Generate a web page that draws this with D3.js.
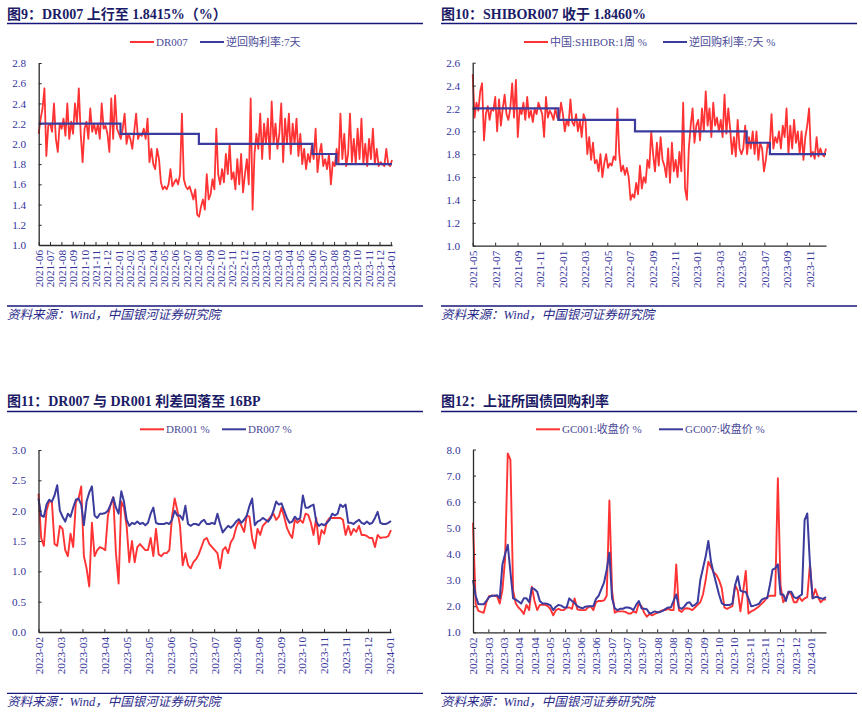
<!DOCTYPE html>
<html><head><meta charset="utf-8">
<script src="https://cdn.jsdelivr.net/npm/d3@7/dist/d3.min.js"></script>
<style>body{margin:0;background:#fff}svg{display:block}</style>
</head><body>
<svg id="c" width="862" height="722"></svg>
<script>
// ---------- DATA ----------
// Panel 1: DR007 (%), ~6 readings per month from 2021-06 to 2024-01
const p1Ticks = ["2021-06","2021-07","2021-08","2021-09","2021-10","2021-11","2021-12","2022-01","2022-02","2022-03","2022-04","2022-05","2022-06","2022-07","2022-08","2022-09","2022-10","2022-11","2022-12","2023-01","2023-02","2023-03","2023-04","2023-05","2023-06","2023-07","2023-08","2023-09","2023-10","2023-11","2023-12","2024-01"];
const p1DR007 = [
2.10,2.25,2.35,2.55,1.88,2.18, 2.20,2.12,2.40,2.05,1.92,2.20, 2.15,2.25,2.08,2.40,2.05,2.22,
2.10,2.40,2.20,2.55,2.10,1.82, 2.15,2.22,2.05,2.35,2.12,2.20, 2.10,2.20,2.05,2.40,2.15,2.18,
2.10,1.92,2.45,2.05,2.48,2.15, 2.10,2.05,2.15,2.30,2.00,2.10, 2.05,1.95,2.12,2.30,2.05,2.10,
2.08,2.15,2.05,2.25,1.82,1.95, 1.80,1.75,1.95,1.85,1.62,1.55, 1.58,1.55,1.60,1.75,1.58,1.62,
1.65,1.60,1.70,2.30,1.65,1.58, 1.55,1.58,1.52,1.45,1.55,1.30, 1.28,1.38,1.45,1.35,1.70,1.45,
1.50,1.65,1.55,2.15,1.70,1.60, 1.75,1.62,1.90,1.70,2.00,1.65, 1.72,1.55,1.85,1.60,1.90,1.52,
1.70,1.85,1.60,2.45,1.35,1.90, 2.10,1.95,2.30,1.85,2.20,2.00, 2.25,1.85,2.42,2.00,2.20,1.95,
2.10,2.40,1.82,2.25,2.00,2.30, 1.90,2.20,2.00,2.25,1.88,2.10, 1.80,1.95,1.75,1.90,1.82,1.98,
1.85,2.15,1.72,1.90,2.00,1.78, 1.85,1.75,1.90,1.60,1.82,1.78, 1.95,1.80,2.30,1.85,2.10,1.78,
1.90,2.30,1.82,2.05,1.80,2.15, 1.85,2.25,1.80,2.00,1.78,2.05, 1.85,2.15,1.80,1.95,1.78,1.82,
1.80,1.78,1.95,1.80,1.78,1.84];
// 7-day reverse repo rate: change points (months from 2021-06) and rates
const p1PolicyAt = [0, 7.2, 14.1, 24.1, 26.2, 31.1];
const p1PolicyRate = [2.2, 2.1, 2.0, 1.9, 1.8, 1.8];

// Panel 2: SHIBOR 1W (%), ~6 readings per month
const p2Ticks = ["2021-05","2021-07","2021-09","2021-11","2022-01","2022-03","2022-05","2022-07","2022-09","2022-11","2023-01","2023-03","2023-05","2023-07","2023-09","2023-11"];
const p2Shibor = [
2.50,2.12,2.25,2.18,2.35,2.42, 1.92,2.15,2.22,2.10,2.20,2.18, 2.30,2.00,2.28,2.05,2.20,2.32,
2.15,2.10,2.20,2.42,2.12,2.45, 1.95,2.20,2.15,2.25,2.10,2.30, 2.12,2.18,2.08,2.20,2.15,2.25,
2.20,2.15,1.95,2.30,2.12,2.18, 2.15,2.10,2.20,2.12,2.10,2.25, 2.15,2.00,2.10,2.05,2.28,2.08,
2.05,2.15,2.00,2.10,1.95,2.15, 2.10,1.80,1.95,1.75,1.90,1.72, 1.75,1.65,1.80,1.60,1.72,1.80,
1.68,1.72,1.70,1.78,1.75,2.20, 1.80,1.65,1.70,1.62,1.68,1.60, 1.40,1.45,1.42,1.55,1.45,1.70,
1.50,1.60,1.55,1.75,1.68,2.00, 1.80,1.65,1.90,1.70,1.95,1.75, 1.70,1.60,1.85,1.55,1.90,1.65,
1.75,1.60,1.82,1.65,2.25,1.50, 1.40,1.85,2.05,2.20,1.90,2.05, 2.10,1.92,2.20,2.00,2.35,2.05,
2.20,1.95,2.25,2.05,2.12,2.00, 2.10,1.95,2.32,1.98,2.20,2.02, 1.80,1.95,1.78,2.10,1.85,1.80,
1.85,2.05,1.80,1.95,1.85,2.00, 1.80,2.00,1.75,1.90,1.85,1.65, 1.75,1.90,1.85,2.15,1.85,1.95,
1.90,2.00,1.85,2.05,1.95,2.20, 1.80,2.05,1.85,2.10,1.90,2.00, 1.80,2.00,1.75,1.95,2.05,2.20,
1.78,1.82,1.76,1.95,1.78,1.85, 1.80,1.78,1.85];
const p2PolicyAt = [0, 7.64, 14.47, 24.43, 26.5, 31.5];
const p2PolicyRate = [2.2, 2.1, 2.0, 1.9, 1.8, 1.8];

// Panel 3: DR001 and DR007 (%), 2023-02 .. 2024-01
const p3Ticks = ["2023-02","2023-03","2023-03","2023-04","2023-05","2023-05","2023-06","2023-07","2023-07","2023-08","2023-09","2023-09","2023-10","2023-11","2023-11","2023-12","2024-01"];
const p3DR001 = [
2.28,1.55,1.42,2.00,2.15,2.15,1.45,1.42,1.75,1.70,1.35,1.25,1.62,1.40,2.15,2.20,2.40,1.25,1.05,0.75,
1.80,1.25,1.35,1.40,1.38,1.35,1.92,2.10,2.22,1.30,0.80,2.15,2.05,1.75,1.15,1.50,1.15,1.40,1.45,1.40,
1.35,1.35,1.55,1.25,1.70,1.28,1.25,1.30,1.30,1.35,1.90,2.20,2.00,1.75,1.10,1.30,1.10,1.05,1.15,1.20,
1.28,1.40,1.52,1.55,1.45,1.40,1.35,1.30,1.05,1.35,1.40,1.30,1.48,1.55,1.72,1.82,1.75,1.65,1.92,1.90,
1.55,1.38,1.70,1.60,1.75,1.80,1.85,1.90,1.95,1.85,1.90,2.05,1.90,1.72,1.62,1.55,1.85,1.80,1.85,1.80,
1.95,1.93,1.80,1.60,1.88,1.45,1.68,1.62,1.82,1.88,1.88,1.88,1.88,1.88,1.85,1.60,1.75,1.60,1.70,1.65,
1.75,1.60,1.60,1.58,1.55,1.55,1.40,1.60,1.55,1.56,1.56,1.58,1.68];
const p3DR007 = [
2.20,1.92,1.90,2.10,2.18,2.15,2.25,2.42,2.00,1.90,1.82,1.95,1.90,2.05,2.18,2.20,2.10,1.76,2.15,2.30,
2.40,1.92,1.88,1.95,1.95,1.96,2.00,2.10,2.22,2.05,1.95,2.32,2.15,1.85,1.75,1.80,1.78,1.82,1.78,1.80,
1.76,1.80,1.95,2.05,1.80,1.78,1.78,1.78,1.80,1.78,1.85,2.00,1.92,1.92,1.85,2.08,1.78,1.75,1.78,1.78,
1.76,1.82,1.85,1.78,1.78,1.80,1.78,1.95,1.78,1.64,1.70,1.75,1.72,1.76,1.82,1.86,1.80,1.85,1.92,2.08,
2.20,1.76,1.82,1.84,1.88,1.85,1.82,1.88,2.00,2.15,2.10,2.12,2.00,1.88,1.80,1.82,1.90,1.85,1.88,2.25,
2.05,2.05,2.08,2.10,1.82,1.75,1.78,1.76,1.80,1.85,1.95,1.92,1.95,2.10,2.06,2.10,1.80,1.80,1.78,1.82,
1.85,1.80,1.78,1.82,1.78,1.80,1.88,1.98,1.80,1.78,1.78,1.80,1.83];

// Panel 4: GC001 and GC007 closing (%), 2023-02 .. 2024-01
const p4Ticks = ["2023-02","2023-03","2023-03","2023-04","2023-04","2023-05","2023-05","2023-06","2023-06","2023-07","2023-07","2023-07","2023-08","2023-08","2023-09","2023-09","2023-10","2023-10","2023-11","2023-11","2023-12","2023-12","2024-01"];
const p4GC001 = [
5.20,2.10,1.82,1.78,1.75,2.15,2.38,2.40,2.40,2.38,2.10,2.62,3.80,7.85,7.60,2.60,2.10,1.95,1.85,1.70,
2.05,1.85,2.75,2.20,1.85,2.05,2.05,2.05,2.00,1.88,1.65,1.85,1.90,1.85,1.85,1.95,1.95,1.90,2.30,1.88,
1.85,1.85,1.85,1.95,2.00,1.85,2.15,2.20,2.20,2.22,2.40,6.05,2.60,1.75,1.80,1.80,1.80,1.78,1.72,1.72,
1.80,1.75,2.10,2.00,1.75,1.60,1.70,1.65,1.70,1.75,1.80,1.85,1.85,1.90,1.85,1.85,3.60,1.85,1.78,1.90,
1.92,1.90,1.85,1.95,2.05,2.15,2.45,3.00,3.70,3.50,3.30,3.20,3.00,2.70,1.95,1.90,1.95,2.00,2.80,2.60,
1.80,2.55,3.35,1.72,1.80,1.85,1.92,2.00,2.10,2.20,2.35,2.40,2.40,2.40,6.90,2.80,2.15,2.30,2.55,2.45,
2.15,2.15,2.35,2.20,2.30,2.35,3.60,2.30,2.65,2.35,2.15,2.25,2.25];
const p4GC007 = [
3.00,2.40,2.08,2.07,2.07,2.20,2.35,2.40,2.40,2.42,2.30,3.60,4.00,4.35,3.30,2.30,2.25,2.18,2.10,2.30,
2.30,2.15,2.70,2.65,2.55,2.20,2.10,2.10,2.08,2.03,1.85,1.98,2.05,2.02,1.95,1.95,2.30,2.20,2.12,2.00,
1.95,1.92,1.98,2.00,2.00,2.00,2.28,2.40,2.65,2.90,3.40,4.05,2.30,1.92,1.85,1.90,1.90,1.95,1.95,1.92,
1.85,2.05,2.20,1.92,1.90,1.88,1.72,1.75,1.80,1.76,1.78,1.82,1.90,1.95,1.95,2.20,2.45,1.95,1.90,1.98,
2.12,2.15,2.00,2.05,2.15,3.00,3.45,3.90,4.50,3.70,3.25,2.85,2.45,2.12,2.05,2.05,2.05,2.10,2.80,3.15,
2.60,2.55,2.55,2.30,2.00,2.02,2.05,2.10,2.25,2.30,2.30,2.80,3.40,3.45,3.60,2.45,2.45,2.20,2.55,2.55,
2.35,2.30,2.38,2.45,5.30,5.55,3.60,2.30,2.35,2.35,2.30,2.28,2.35];

// ---------- DRAWING ----------
const svg = d3.select('#c');
const RED = '#ff3333', BLUE = '#3c3c9e', AXIS = '#2b2b2b', LABEL = '#34349c', NAVY = '#1b1b66', LEG = '#4a4a98';
const SERIF = '"Liberation Serif","Times New Roman","Noto Sans CJK SC",serif';

function header(x0, x1, baseY, lineY, title) {
  svg.append('text').attr('x', x0).attr('y', baseY).text(title)
    .attr('font-family', SERIF).attr('font-weight', 'bold').attr('font-size', 14).attr('fill', NAVY);
  svg.append('line').attr('x1', x0).attr('x2', x1).attr('y1', lineY).attr('y2', lineY)
    .attr('stroke', '#16167a').attr('stroke-width', 1.3);
}
function footer(x0, x1, lineY) {
  svg.append('line').attr('x1', x0).attr('x2', x1).attr('y1', lineY).attr('y2', lineY)
    .attr('stroke', '#16167a').attr('stroke-width', 1.3);
  svg.append('text').attr('x', x0).attr('y', lineY + 12.5).text('资料来源：Wind，中国银河证券研究院')
    .attr('font-family', SERIF).attr('font-style', 'italic').attr('font-size', 12.5).attr('fill', '#2a2a8a');
}
function legend(y, items) {
  items.forEach(it => {
    svg.append('line').attr('x1', it.x).attr('x2', it.x + 24).attr('y1', y).attr('y2', y)
      .attr('stroke', it.color).attr('stroke-width', 2);
    svg.append('text').attr('x', it.x + 26).attr('y', y).attr('dy', '0.35em').text(it.text)
      .attr('font-family', SERIF).attr('font-size', 11).attr('fill', LEG);
  });
}

function panel(cfg) {
  const g = svg.append('g');
  const x = d3.scaleLinear().domain([0, cfg.xMax]).range([cfg.left, cfg.right]);
  const y = d3.scaleLinear().domain(cfg.yDomain).range([cfg.bottom, cfg.top]);

  cfg.series.forEach(s => {
    const n = s.values.length;
    const line = d3.line().x((d, i) => x(i * cfg.xMax / (n - 1))).y(d => y(d));
    g.append('path').datum(s.values).attr('d', line).attr('fill', 'none')
      .attr('stroke', s.color).attr('stroke-width', s.width || 1.8).attr('stroke-linejoin', 'round');
  });
  if (cfg.steps) {
    const pts = cfg.steps.at.map((t, i) => [t, cfg.steps.rate[i]]);
    const line = d3.line().x(d => x(d[0])).y(d => y(d[1])).curve(d3.curveStepAfter);
    g.append('path').datum(pts).attr('d', line).attr('fill', 'none')
      .attr('stroke', BLUE).attr('stroke-width', 2.2);
  }

  const ya = g.append('g').attr('transform', `translate(${cfg.left},0)`)
    .call(d3.axisLeft(y).tickValues(cfg.yTicks).tickSize(-3).tickSizeOuter(0).tickPadding(12.5)
      .tickFormat(d3.format('.1f')));
  const tickVals = cfg.xTicks.map((_, i) => i * cfg.tickStep);
  const xa = g.append('g').attr('transform', `translate(0,${cfg.bottom})`)
    .call(d3.axisBottom(x).tickValues(tickVals).tickSize(-3).tickSizeOuter(0)
      .tickFormat((d, i) => cfg.xTicks[i]));
  xa.selectAll('.tick text').attr('transform', 'rotate(-90)').attr('text-anchor', 'end')
    .attr('x', -5).attr('y', 0).attr('dy', '0.35em');
  [ya, xa].forEach(a => {
    a.select('.domain').attr('stroke', AXIS).attr('stroke-width', 1.3);
    a.selectAll('.tick line').attr('stroke', AXIS).attr('stroke-width', 1);
    a.selectAll('.tick text').attr('fill', LABEL).attr('font-family', SERIF).attr('font-size', 11.2);
  });
}

// Panel 1
header(7, 423, 19, 23.5, '图9：DR007 上行至 1.8415%（%）');
legend(42, [{x: 130, color: RED, text: 'DR007'}, {x: 200, color: BLUE, text: '逆回购利率:7天'}]);
panel({left: 38.7, right: 392, top: 63, bottom: 245, xMax: 31.1, tickStep: 1, xTicks: p1Ticks,
  yDomain: [1.0, 2.8], yTicks: d3.range(1.0, 2.81, 0.2),
  series: [{values: p1DR007, color: RED, width: 1.8}],
  steps: {at: p1PolicyAt, rate: p1PolicyRate}});
footer(7, 423, 306);

// Panel 2
header(441, 857, 19, 23.5, '图10：SHIBOR007 收于 1.8460%');
legend(42, [{x: 524, color: RED, text: '中国:SHIBOR:1周 %'}, {x: 663, color: BLUE, text: '逆回购利率:7天 %'}]);
panel({left: 472.7, right: 826, top: 62.7, bottom: 245.7, xMax: 31.5, tickStep: 2, xTicks: p2Ticks,
  yDomain: [1.0, 2.6], yTicks: d3.range(1.0, 2.61, 0.2),
  series: [{values: p2Shibor, color: RED, width: 1.8}],
  steps: {at: p2PolicyAt, rate: p2PolicyRate}});
footer(441, 857, 306);

// Panel 3
header(7, 423, 405.5, 411.5, '图11：DR007 与 DR001 利差回落至 16BP');
legend(429.3, [{x: 140, color: RED, text: 'DR001 %'}, {x: 222, color: BLUE, text: 'DR007 %'}]);
panel({left: 38.5, right: 391, top: 450, bottom: 632, xMax: 16.05, tickStep: 1, xTicks: p3Ticks,
  yDomain: [0, 3.0], yTicks: d3.range(0, 3.01, 0.5),
  series: [{values: p3DR001, color: RED, width: 1.9}, {values: p3DR007, color: BLUE, width: 2}]});
footer(7, 423, 693.3);

// Panel 4
header(441, 857, 405.5, 411.5, '图12：上证所国债回购利率');
legend(429.3, [{x: 536, color: RED, text: 'GC001:收盘价 %'}, {x: 659, color: BLUE, text: 'GC007:收盘价 %'}]);
panel({left: 473, right: 826, top: 449.5, bottom: 632.3, xMax: 23, tickStep: 1, xTicks: p4Ticks,
  yDomain: [1.0, 8.0], yTicks: d3.range(1, 8.01, 1),
  series: [{values: p4GC001, color: RED, width: 1.9}, {values: p4GC007, color: BLUE, width: 2}]});
footer(441, 857, 693.3);
</script>
</body></html>
